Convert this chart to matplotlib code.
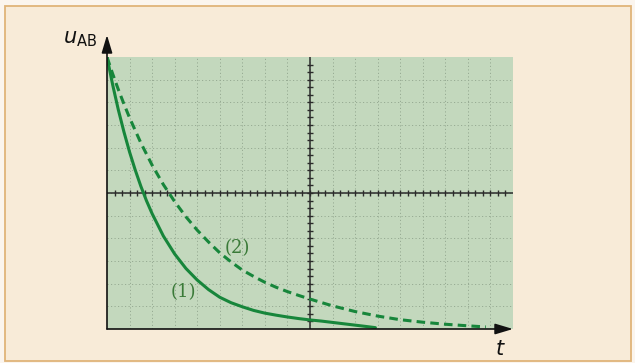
import matplotlib
matplotlib.use("Agg")
import matplotlib.pyplot as plt
from matplotlib.patches import Rectangle

plt.rcParams['mathtext.fontset'] = 'dejavusans'

# values, in divisions (18 x 12 grid)
t_1 = [0, 0.25, 0.5, 0.75, 1, 1.25, 1.5, 1.75, 2, 2.5, 3, 3.5, 4, 4.5, 5,
       5.5, 6, 6.5, 7, 7.5, 8, 8.5, 9, 9.5, 10, 10.5, 11, 11.5, 11.9]
u_1 = [12, 10.78, 9.68, 8.70, 7.81, 7.02, 6.30, 5.66, 5.09, 4.10, 3.31, 2.67,
       2.16, 1.74, 1.40, 1.16, 0.98, 0.82, 0.70, 0.61, 0.53, 0.46, 0.40,
       0.35, 0.29, 0.23, 0.17, 0.11, 0.06]

t_2 = [0, 0.25, 0.5, 0.75, 1, 1.5, 2, 2.5, 3, 3.5, 4, 4.5, 5, 5.5, 6, 6.5,
       7, 7.5, 8, 8.5, 9, 9.5, 10, 11, 12, 13, 14, 15, 16, 16.8]
u_2 = [12, 11.26, 10.57, 9.93, 9.32, 8.21, 7.23, 6.37, 5.62, 4.95, 4.36,
       3.84, 3.36, 2.96, 2.60, 2.32, 2.06, 1.84, 1.65, 1.48, 1.32, 1.17,
       1.02, 0.77, 0.57, 0.41, 0.30, 0.21, 0.14, 0.09]

curve_labels = ['(1)', '(2)']
n_div_x, n_div_y = 18, 12

W, H = 635, 363
fig = plt.figure(figsize=(W / 100, H / 100), dpi=100)
fig.patch.set_facecolor('#fbf5ee')

# page background with tan frame
fig.patches.append(Rectangle((5 / W, 1 - 361 / H), 626 / W, 355 / H,
                             transform=fig.transFigure, facecolor='#f8ebd8',
                             edgecolor='#e0b479', lw=1.3, zorder=-10))

ax = fig.add_axes([107 / W, 34 / H, 406 / W, 272 / H])
ax.set_xlim(0, n_div_x)
ax.set_ylim(0, n_div_y)
ax.set_facecolor('#c3d8bd')
for s in ax.spines.values():
    s.set_visible(False)
ax.set_xticks([])
ax.set_yticks([])

# dotted screen grid
grid_kw = dict(color='#97ab93', lw=0.7, linestyle=(0, (1.2, 2.4)), zorder=1)
for x in range(1, n_div_x):
    ax.axvline(x, **grid_kw)
for y in range(1, n_div_y):
    ax.axhline(y, **grid_kw)

# central graduated cross
cx, cy = n_div_x / 2, n_div_y / 2
ax.axvline(cx, color='#2b2b2b', lw=1.1, zorder=2)
ax.axhline(cy, color='#2b2b2b', lw=1.1, zorder=2)
sub = [k / 3 for k in range(1, 3 * n_div_y)]
ax.hlines(sub, cx - 0.13, cx + 0.13, color='#2b2b2b', lw=1.0, zorder=2)
sub = [k / 3 for k in range(1, 3 * n_div_x)]
ax.vlines(sub, cy - 0.13, cy + 0.13, color='#2b2b2b', lw=1.0, zorder=2)

# curves
green = '#17863b'
ax.plot(t_1, u_1, color=green, lw=2.2, solid_capstyle='round',
        solid_joinstyle='round', zorder=4)
ax.plot(t_2, u_2, color=green, lw=2.2, linestyle=(0, (2.8, 1.7)), zorder=4)

ax.text(3.4, 1.63, curve_labels[0], color='#3a7a38', fontsize=13,
        family='DejaVu Serif', ha='center', va='center', zorder=5)
ax.text(5.78, 3.57, curve_labels[1], color='#3a7a38', fontsize=13,
        family='DejaVu Serif', ha='center', va='center', zorder=5)

# axes with arrows
arrow = dict(arrowstyle='-|>,head_length=0.6,head_width=0.18', color='#111111',
             lw=1.2, mutation_scale=18, shrinkA=0, shrinkB=0)
ax.annotate('', xy=(0, 12.97), xytext=(0, 0), arrowprops=arrow,
            annotation_clip=False, zorder=6)
ax.annotate('', xy=(18, 0), xytext=(0, 0), arrowprops=arrow,
            annotation_clip=False, zorder=6)

ax.text(-0.45, 12.8, r'$u_{\mathrm{AB}}$', fontsize=15, ha='right',
        va='center', color='#111111')
ax.text(17.45, -0.45, r'$t$', fontsize=15, ha='center', va='top',
        color='#111111')

fig.savefig('out.png', dpi=100, facecolor=fig.get_facecolor())
